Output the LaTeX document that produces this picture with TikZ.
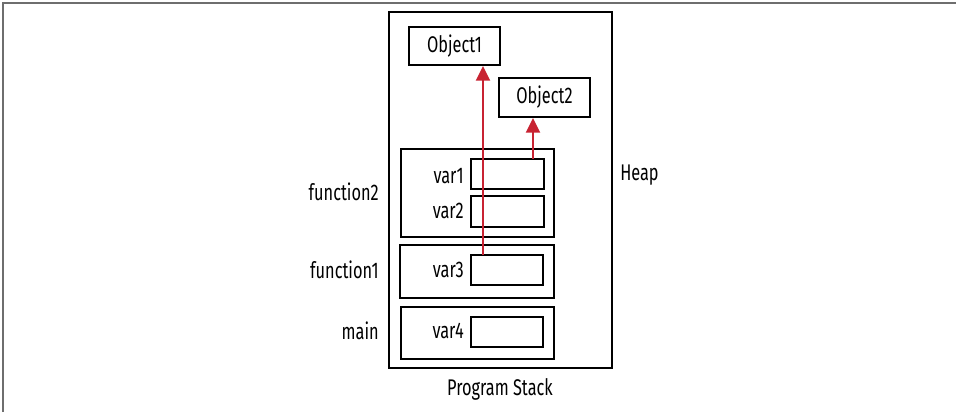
\documentclass[tikz,border=0pt]{standalone}
\usepackage{fontspec}
\setmainfont[FakeStretch=0.72]{Fira Sans}
\usetikzlibrary{arrows.meta}
\definecolor{arrred}{RGB}{200,35,50}
\definecolor{frame}{RGB}{110,110,110}
\begin{document}
\begin{tikzpicture}[x=0.75pt,y=-0.75pt,
  box/.style={draw=black,line width=2.1pt,inner sep=0pt},
  lbl/.style={font=\fontsize{17}{19}\selectfont,inner sep=0pt},
  ptr/.style={draw=arrred,line width=1.7pt,-{Triangle[length=11pt,width=10.5pt]}}]
\useasboundingbox (0,0) rectangle (956,412);
\draw[frame,line width=1.5pt] (2.5,412) -- (2.5,2.5) -- (956,2.5);
% outer stack/heap box
\node[box,minimum width=223*0.75pt,minimum height=356*0.75pt] (outer) at (500.5,190) {};
% objects
\node[box,minimum width=91*0.75pt,minimum height=38*0.75pt,lbl] (obj1) at (454.5,46) {Object1};
\node[box,minimum width=91*0.75pt,minimum height=39*0.75pt,lbl] (obj2) at (544.5,97.5) {Object2};
% frames
\node[box,minimum width=153*0.75pt,minimum height=88*0.75pt] (f2) at (477.5,193) {};
\node[box,minimum width=154*0.75pt,minimum height=53*0.75pt] (f1) at (477,271.5) {};
\node[box,minimum width=153*0.75pt,minimum height=52*0.75pt] (fm) at (477.5,333) {};
% variable slots
\node[box,minimum width=73*0.75pt,minimum height=30*0.75pt] (v1) at (507.5,174) {};
\node[box,minimum width=73*0.75pt,minimum height=31*0.75pt] (v2) at (507.5,211.5) {};
\node[box,minimum width=72*0.75pt,minimum height=30*0.75pt] (v3) at (507,270) {};
\node[box,minimum width=72*0.75pt,minimum height=30*0.75pt] (v4) at (507,332) {};
% variable labels
\node[lbl,anchor=east] (t1) at (464,176) {var1};
\node[lbl,anchor=east] (t2) at (464,211) {var2};
\node[lbl,anchor=east] (t3) at (464,270) {var3};
\node[lbl,anchor=east] (t4) at (464,331) {var4};
% frame labels
\node[lbl,anchor=east] (n2) at (379,192) {function2};
\node[lbl,anchor=east] (n1) at (379,270) {function1};
\node[lbl,anchor=east] (nm) at (379,331) {main};
\node[lbl,anchor=west] (heap) at (620,175) {Heap};
\node[lbl] (ps) at (500,389) {Program Stack};
% pointers
\coordinate (s3) at (483,255);
\coordinate (e3) at (483,66);
\coordinate (s1) at (533,159);
\coordinate (e1) at (533,118);
\draw[ptr] (s3) -- (e3);
\draw[ptr] (s1) -- (e1);
\end{tikzpicture}
\end{document}
